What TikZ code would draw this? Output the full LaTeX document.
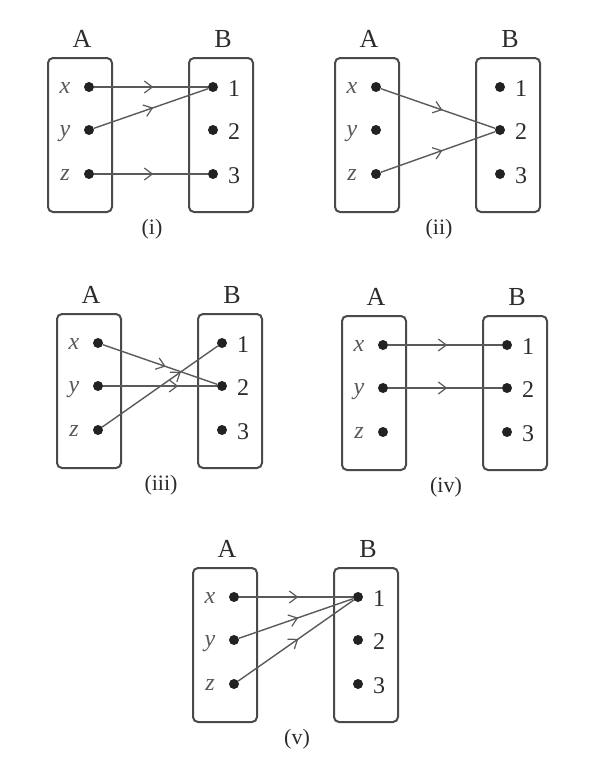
\documentclass[tikz,border=0pt]{standalone}
\usepackage{fontspec}
\setmainfont{Liberation Serif}
\usetikzlibrary{arrows.meta,decorations.markings}
\definecolor{boxc}{HTML}{4a4a4a}
\definecolor{linec}{HTML}{5a5a5a}
\definecolor{dotc}{HTML}{222222}
\definecolor{txtc}{HTML}{2c2c2c}
\definecolor{varc}{HTML}{5a5a5a}
\tikzset{
  setbox/.style={draw=boxc, line width=2pt, rounded corners=5pt, minimum width=64pt, minimum height=154pt, inner sep=0pt, anchor=north west},
  pt/.style={circle, fill=dotc, inner sep=0pt, minimum size=10pt},
  varlab/.style={text=varc, font=\fontsize{24}{26}\selectfont\itshape, anchor=base, inner sep=0pt},
  numlab/.style={text=txtc, font=\fontsize{24}{26}\selectfont, anchor=base, inner sep=0pt},
  setlab/.style={text=txtc, font=\fontsize{26}{28}\selectfont, anchor=base, inner sep=0pt},
  caplab/.style={text=txtc, font=\fontsize{22}{24}\selectfont, anchor=base, inner sep=0pt},
  map/.style={draw=linec, line width=1.4pt, postaction={decorate},
    decoration={markings, mark=at position #1 with {\arrow[linec]{Straight Barb[length=8pt,width=12pt,line width=1.2pt]}}}},
  map/.default=0.52
}
% panel skeleton: #1 prefix, #2 L, #3 T, #4 caption
\newcommand\mappanel[4]{%
  \begin{scope}[shift={(#2,#3)}, name prefix=#1-]
    \node[setbox] (boxA) at (0,0) {};
    \node[setbox] (boxB) at (141,0) {};
    \node[setlab] (labA) at (35,-10) {A};
    \node[setlab] (labB) at (176,-10) {B};
    \node[pt] (x) at (42,30) {};
    \node[pt] (y) at (42,73) {};
    \node[pt] (z) at (42,117) {};
    \node[pt] (n1) at (166,30) {};
    \node[pt] (n2) at (166,73) {};
    \node[pt] (n3) at (166,117) {};
    \node[varlab] (lx) at (18,36) {x};
    \node[varlab] (ly) at (18,79) {y};
    \node[varlab] (lz) at (18,123) {z};
    \node[numlab] (l1) at (187,39) {1};
    \node[numlab] (l2) at (187,82) {2};
    \node[numlab] (l3) at (187,126) {3};
    \node[caplab] (cap) at (105,177) {#4};
  \end{scope}}
\begin{document}
\begin{tikzpicture}[x=1pt,y=-1pt]
\useasboundingbox (0,0) rectangle (601,764);
\fill[white] (0,0) rectangle (601,764);
% (i)
\mappanel{p1}{47}{57}{(i)}
\draw[map] (p1-x) -- (p1-n1);
\draw[map] (p1-y) -- (p1-n1);
\draw[map] (p1-z) -- (p1-n3);
% (ii)
\mappanel{p2}{334}{57}{(ii)}
\draw[map=0.54] (p2-x) -- (p2-n2);
\draw[map=0.54] (p2-z) -- (p2-n2);
% (iii)
\mappanel{p3}{56}{313}{(iii)}
\draw[map=0.55] (p3-x) -- (p3-n2);
\draw[map=0.66] (p3-y) -- (p3-n2);
\draw[map=0.68] (p3-z) -- (p3-n1);
% (iv)
\mappanel{p4}{341}{315}{(iv)}
\draw[map] (p4-x) -- (p4-n1);
\draw[map] (p4-y) -- (p4-n2);
% (v)
\mappanel{p5}{192}{567}{(v)}
\draw[map] (p5-x) -- (p5-n1);
\draw[map] (p5-y) -- (p5-n1);
\draw[map] (p5-z) -- (p5-n1);
\end{tikzpicture}
\end{document}
